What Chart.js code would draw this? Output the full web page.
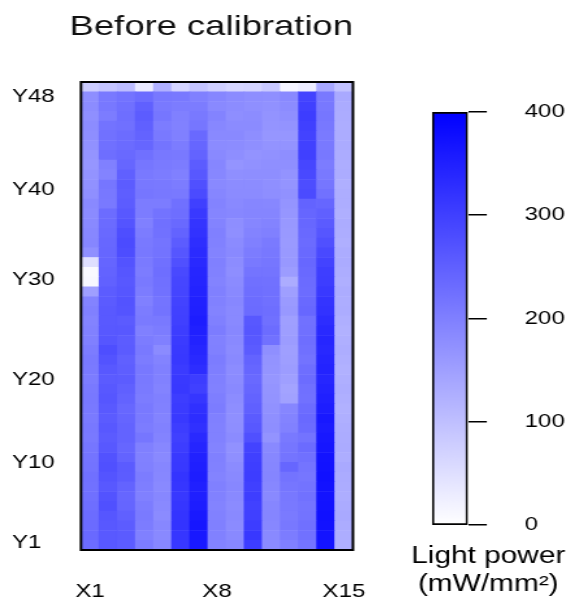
<!DOCTYPE html>
<html>
<head>
<meta charset="utf-8">
<title>Before calibration</title>
<script src="https://cdn.jsdelivr.net/npm/chart.js@4/dist/chart.umd.min.js"></script>
<style>
  html, body { margin: 0; padding: 0; background: #fff; }
  #wrap { position: relative; width: 571px; height: 609px; overflow: hidden; }
</style>
</head>
<body>
<div id="wrap">
  <!-- the reference figure is stretched sideways (x1.3), so the canvases are too -->
  <canvas id="heat" width="300" height="609" style="position:absolute;left:0;top:0;width:390px;height:609px"></canvas>
  <canvas id="scale" width="128" height="609" style="position:absolute;left:405px;top:0;width:166.4px;height:609px"></canvas>
</div>
<script>
// Light power (mW/mm2) per column, rows Y1 -> Y48
const x1 = [230,235,232,230,228,225,222,225,220,218,215,210, 212,208,210,212,210,205,208,210,205,200,198,195, 200,195,150,12,10,50,175,190,188,185,182,185, 175,172,170,165,168,172,178,180,175,180,178,80];
const x2 = [262,260,262,265,275,270,262,268,275,272,262,258, 262,258,260,265,262,258,262,270,278,265,262,260, 260,258,255,248,245,242,240,238,235,232,230,210, 212,215,195,200,228,225,222,220,205,212,210,92];
const x3 = [255,258,255,250,242,240,245,255,258,245,240,245, 245,242,238,245,250,255,252,250,258,255,262,258, 268,270,265,262,265,270,280,282,278,268,262,255, 252,255,250,240,235,232,230,225,228,225,220,105];
const x4 = [205,200,205,208,205,200,202,205,200,198,200,215, 205,208,210,205,208,210,212,205,210,205,200,208, 205,200,205,210,205,208,212,210,205,200,205,205, 215,212,210,215,225,240,245,250,255,250,230,35];
const x5 = [188,185,188,182,185,188,185,188,190,185,188,195, 198,195,198,200,195,198,200,195,182,200,205,210, 220,218,222,225,228,225,220,218,222,225,220,205, 212,210,205,208,212,218,210,205,215,210,212,124];
const x6 = [312,315,320,318,315,312,315,318,312,310,305,300, 305,310,308,305,312,310,308,312,310,308,305,300, 298,295,292,290,285,275,265,255,245,235,228,225, 210,205,200,205,210,205,200,198,200,205,210,67];
const x7 = [360,362,365,360,355,352,350,355,352,348,342,335, 325,330,325,315,300,305,330,335,340,345,350,355, 350,348,345,342,340,335,332,328,322,318,310,300, 282,275,262,255,245,240,235,215,210,205,200,92];
const x8 = [195,198,200,198,195,198,200,195,198,200,195,198, 198,200,205,202,198,200,202,205,200,198,205,200, 195,198,200,195,198,200,195,198,200,195,192,195, 190,185,188,190,185,182,185,188,195,185,190,75];
const x9 = [188,185,182,185,182,185,188,185,182,175,172,182, 178,175,178,180,185,182,180,185,182,185,188,185, 185,188,185,182,178,180,185,182,175,178,188,185, 182,180,175,168,178,180,185,182,178,180,182,64];
const x10 = [305,312,305,300,298,302,300,305,302,300,295,275, 262,258,250,245,240,235,240,245,258,262,265,262, 232,230,228,225,218,210,205,200,195,190,192,190, 182,180,178,172,170,175,178,182,180,176,178,67];
const x11 = [182,185,188,192,190,185,188,192,190,188,185,170, 178,175,172,170,168,165,168,170,175,222,230,225, 228,225,225,222,218,215,212,208,200,195,192,188, 178,175,178,175,172,170,165,168,170,172,175,86];
const x12 = [200,205,212,208,210,212,215,220,240,218,215,210, 198,195,190,148,145,150,155,152,150,155,152,150, 162,158,150,130,155,162,160,158,160,162,165,168, 172,168,170,175,178,170,165,170,175,180,185,17];
const x13 = [218,222,225,220,218,222,220,215,218,225,232,220, 232,235,230,222,225,230,228,220,225,228,225,222, 238,235,230,232,235,238,235,232,235,238,240,245, 282,280,285,290,300,298,295,300,305,300,295,30];
const x14 = [368,370,372,375,372,370,372,375,372,370,365,362, 358,362,355,350,345,340,345,342,338,340,335,330, 322,318,310,305,302,295,285,275,265,258,250,240, 222,215,210,205,212,210,208,212,215,212,210,136];
const x15 = [125,128,130,135,132,128,130,132,135,128,132,130, 128,125,122,125,128,125,122,125,128,125,122,125, 130,128,130,125,128,132,130,125,128,130,125,128, 128,125,130,128,130,132,130,128,130,132,135,98];

const xLabels = ['X1','X2','X3','X4','X5','X6','X7','X8','X9','X10','X11','X12','X13','X14','X15'];
const xTickShown = ['X1', 'X8', 'X15'];
const yTickLabels = ['Y1', 'Y10', 'Y20', 'Y30', 'Y40', 'Y48'];
const yTickAt = [0.7, 8.9, 17.4, 27.7, 36.9, 46.5];   // where the row labels sit on the row axis
const powerTicks = [0, 100, 200, 300, 400];

const columns = [x1, x2, x3, x4, x5, x6, x7, x8, x9, x10, x11, x12, x13, x14, x15];
const nRows = x1.length;
const pMin = powerTicks[0];
const pMax = powerTicks[powerTicks.length - 1];

const FONT = "'Liberation Sans', Arial, sans-serif";

// white -> blue colour scale
function powerColor(v) {
    const t = Math.max(0, Math.min(1, (v - pMin) / (pMax - pMin)));
    const c = Math.round(255 * (1 - t));
    return 'rgb(' + c + ',' + c + ',255)';
}

// one floating-bar dataset per row
const rowSets = [];
for (let r = 0; r < nRows; r++) {
    rowSets.push({
        data: columns.map(() => [r, r + 1]),
        backgroundColor: columns.map(col => powerColor(col[r])),
        borderWidth: 0
    });
}

const frame = {
    id: 'frame',
    afterDatasetsDraw(chart) {
        const a = chart.chartArea;
        const ctx = chart.ctx;
        ctx.save();
        ctx.strokeStyle = '#000';
        ctx.lineWidth = 2;
        ctx.strokeRect(a.left, a.top, a.right - a.left, a.bottom - a.top);
        ctx.restore();
    }
};

// Heatmap
const heatCtx = document.getElementById('heat').getContext('2d');
const heatChart = new Chart(heatCtx, {
    type: 'bar',
    data: { labels: xLabels, datasets: rowSets },
    options: {
        responsive: false,
        animation: false,
        devicePixelRatio: 1,
        layout: { padding: { left: 9.2, right: 28.5, top: 0, bottom: 0 } },
        datasets: { bar: { barPercentage: 1, categoryPercentage: 1 } },
        plugins: {
            legend: { display: false },
            tooltip: { enabled: false },
            title: {
                display: true,
                text: 'Before calibration',
                align: 'end',
                color: '#111',
                font: { family: FONT, size: 28, weight: 'normal' },
                padding: { top: 10, bottom: 38.4 }
            }
        },
        scales: {
            x: {
                stacked: true,
                grid: { display: false, drawTicks: false },
                border: { display: false },
                ticks: {
                    autoSkip: false,
                    maxRotation: 0,
                    padding: 31,
                    color: '#000',
                    font: { family: FONT, size: 18.5 },
                    callback: (v, i) => xTickShown.includes(xLabels[i]) ? xLabels[i] : ''
                },
                afterFit: s => { s.height = 59; s.paddingLeft = 0; s.paddingRight = 0; }
            },
            y: {
                stacked: false,
                min: 0,
                max: nRows,
                grid: { display: false, drawTicks: false },
                border: { display: false },
                afterBuildTicks: s => { s.ticks = yTickAt.map(v => ({ value: v })); },
                ticks: {
                    crossAlign: 'far',
                    color: '#000',
                    font: { family: FONT, size: 18.5 },
                    callback: (v, i) => yTickLabels[i]
                },
                afterFit: s => { s.width = 53.1; s.paddingTop = 0; s.paddingBottom = 0; }
            }
        }
    },
    plugins: [frame]
});

// Colour scale
const scaleCtx = document.getElementById('scale').getContext('2d');
const scaleChart = new Chart(scaleCtx, {
    type: 'bar',
    data: {
        labels: ['Light power'],
        datasets: [{
            data: [[pMin, pMax]],
            backgroundColor: c => {
                const area = c.chart.chartArea;
                if (!area) return powerColor(pMax / 2);
                const g = c.chart.ctx.createLinearGradient(0, area.bottom, 0, area.top);
                g.addColorStop(0, powerColor(pMin));
                g.addColorStop(1, powerColor(pMax));
                return g;
            },
            borderColor: '#000',
            borderWidth: 2,
            borderSkipped: false,
            barPercentage: 1,
            categoryPercentage: 1
        }]
    },
    options: {
        responsive: false,
        animation: false,
        devicePixelRatio: 1,
        layout: { padding: { left: 0.4, right: 0, top: 112, bottom: 0 } },
        plugins: {
            legend: { display: false },
            tooltip: { enabled: false },
            title: {
                display: true,
                position: 'bottom',
                text: ['Light power', '(mW/mm²)'],
                color: '#000',
                font: { family: FONT, size: 23, weight: 'normal', lineHeight: 1.22 },
                padding: { top: 18, bottom: 10 }
            }
        },
        scales: {
            x: { display: false },
            // empty spacer on the left so the bar sits where the reference has it
            gap: {
                axis: 'y',
                type: 'linear',
                position: 'left',
                grid: { display: false, drawTicks: false },
                border: { display: false },
                ticks: { display: false },
                afterFit: s => { s.width = 20.4; }
            },
            y: {
                position: 'right',
                min: pMin,
                max: pMax,
                afterBuildTicks: s => { s.ticks = powerTicks.map(v => ({ value: v })); },
                grid: { drawOnChartArea: false, drawTicks: true, tickLength: 14.6, color: '#000', lineWidth: 1.5 },
                border: { display: false },
                ticks: {
                    padding: 29.2,
                    color: '#000',
                    font: { family: FONT, size: 18.5 }
                },
                afterFit: s => { s.width = 79.5; s.paddingTop = 0; s.paddingBottom = 0; }
            }
        }
    }
});
</script>
</body>
</html>
